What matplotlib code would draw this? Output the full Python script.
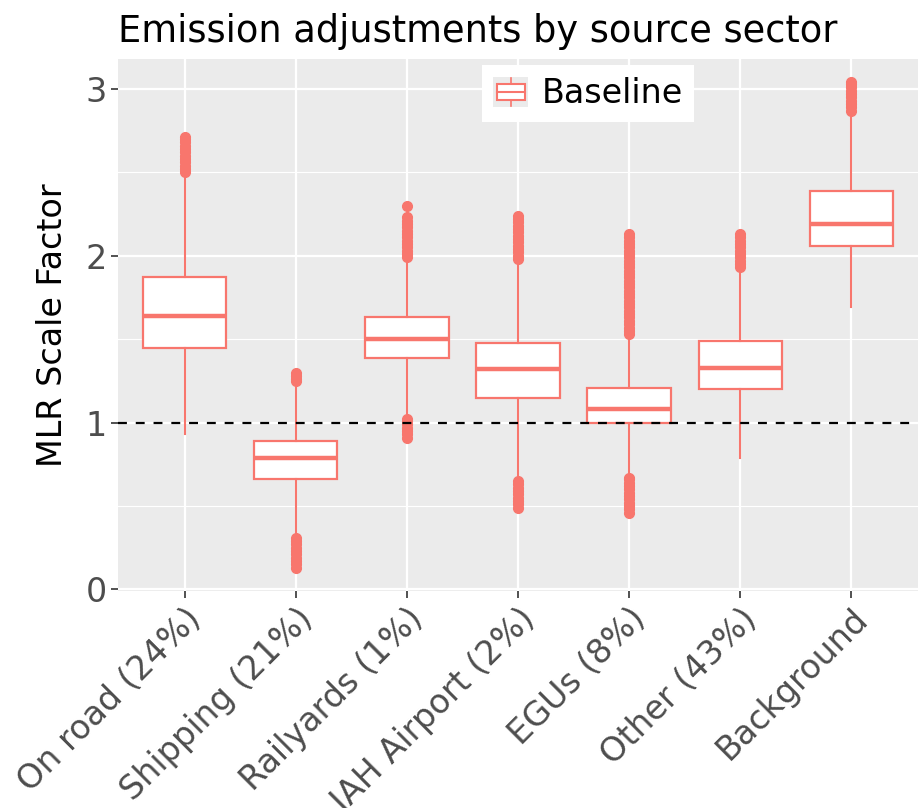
import matplotlib.pyplot as plt
from matplotlib.legend_handler import HandlerBase
from matplotlib.patches import Rectangle
from matplotlib.lines import Line2D

categories = ["On road (24%)", "Shipping (21%)", "Railyards (1%)", "IAH Airport (2%)",
              "EGUs (8%)", "Other (43%)", "Background"]

# box statistics
q1 = [1.45, 0.66, 1.39, 1.15, 0.995, 1.20, 2.06]
med = [1.64, 0.79, 1.50, 1.32, 1.08, 1.33, 2.19]
q3 = [1.87, 0.89, 1.63, 1.48, 1.21, 1.49, 2.39]
whislo = [0.93, 0.33, 1.03, 0.66, 0.68, 0.79, 1.69]
whishi = [2.49, 1.23, 1.98, 1.97, 1.52, 1.92, 2.86]

# outliers (dense runs written out point by point)
fliers = [
    [2.50, 2.52, 2.54, 2.56, 2.58, 2.60, 2.62, 2.64, 2.66, 2.68, 2.70, 2.71],
    [1.25, 1.26, 1.28, 1.30,
     0.13, 0.15, 0.17, 0.19, 0.21, 0.23, 0.25, 0.27, 0.29, 0.31],
    [1.99, 2.01, 2.03, 2.05, 2.07, 2.09, 2.11, 2.13, 2.15, 2.17, 2.19, 2.21, 2.23, 2.30,
     0.91, 0.93, 0.95, 0.97, 0.99, 1.01, 1.02],
    [1.98, 2.00, 2.02, 2.04, 2.06, 2.08, 2.10, 2.12, 2.14, 2.16, 2.18, 2.20, 2.22, 2.24,
     0.49, 0.51, 0.53, 0.55, 0.57, 0.59, 0.61, 0.63, 0.65],
    [1.53, 1.55, 1.57, 1.59, 1.61, 1.63, 1.65, 1.67, 1.69, 1.71, 1.73, 1.75, 1.77,
     1.79, 1.81, 1.83, 1.85, 1.87, 1.89, 1.91, 1.93, 1.95, 1.97, 1.99, 2.01, 2.03,
     2.05, 2.07, 2.09, 2.11, 2.13,
     0.46, 0.48, 0.50, 0.52, 0.54, 0.56, 0.58, 0.60, 0.62, 0.64, 0.66, 0.67],
    [1.93, 1.95, 1.97, 1.99, 2.01, 2.03, 2.05, 2.07, 2.09, 2.11, 2.13],
    [2.87, 2.89, 2.91, 2.93, 2.95, 2.97, 2.99, 3.01, 3.03, 3.04],
]

col = "#F8766D"
gray_txt = "#4D4D4D"

stats = []
for i in range(len(categories)):
    stats.append(dict(label=categories[i], q1=q1[i], med=med[i], q3=q3[i],
                      whislo=whislo[i], whishi=whishi[i], fliers=fliers[i]))

fig = plt.figure(figsize=(9.2, 8.08), dpi=100)
ax = fig.add_axes([118 / 920, 1 - 591 / 808, 800 / 920, 532 / 808])
ax.set_facecolor("#EBEBEB")

ax.set_yticks([0.5, 1.5, 2.5], minor=True)
ax.grid(which="major", color="white", lw=1.6, zorder=0)
ax.grid(which="minor", axis="y", color="white", lw=0.8, zorder=0)
ax.set_axisbelow(True)

pos = list(range(1, len(categories) + 1))
ax.bxp(stats, positions=pos, widths=0.75, patch_artist=True, showcaps=False,
       boxprops=dict(facecolor="white", edgecolor=col, lw=1.6),
       medianprops=dict(color=col, lw=3.2),
       whiskerprops=dict(color=col, lw=1.5),
       flierprops=dict(marker="o", markerfacecolor=col, markeredgecolor=col,
                       markersize=7, linestyle="none"),
       zorder=3)

ax.axhline(1, color="black", ls=(0, (4, 4)), lw=1.6, zorder=4)

ax.set_xlim(0.4, 7.6)
ax.set_ylim(-0.01, 3.18)
ax.set_yticks([0, 1, 2, 3])
ax.set_yticklabels(["0", "1", "2", "3"])
ax.set_xticks(pos)
ax.set_xticklabels(categories, rotation=45, ha="right", rotation_mode="anchor")
for s in ax.spines.values():
    s.set_visible(False)
ax.tick_params(axis="both", which="major", length=5, width=1.2, color="#333333",
               labelsize=24, labelcolor=gray_txt, pad=3)
ax.tick_params(axis="y", which="minor", length=0)

ax.set_ylabel("MLR Scale Factor", fontsize=24, color="black", labelpad=12)
ax.set_title("Emission adjustments by source sector", fontsize=26.5, loc="left",
             pad=12, color="black")


class BoxHandler(HandlerBase):
    def create_artists(self, legend, orig_handle, xdescent, ydescent,
                       width, height, fontsize, trans):
        x0, y0 = -xdescent, -ydescent
        bg = Rectangle((x0, y0), width, height, fc="#EBEBEB", ec="none",
                       transform=trans)
        box = Rectangle((x0 + width * 0.1, y0 + height * 0.25), width * 0.8,
                        height * 0.5, fc="white", ec=col, lw=1.5, transform=trans)
        mid = Line2D([x0 + width * 0.1, x0 + width * 0.9], [y0 + height * 0.5] * 2,
                     color=col, lw=1.5, transform=trans)
        wt = Line2D([x0 + width * 0.5] * 2, [y0 + height * 0.75, y0 + height * 0.95],
                    color=col, lw=1.2, transform=trans)
        wb = Line2D([x0 + width * 0.5] * 2, [y0 + height * 0.05, y0 + height * 0.25],
                    color=col, lw=1.2, transform=trans)
        return [bg, box, mid, wt, wb]


handle = Rectangle((0, 0), 1, 1)
leg = ax.legend([handle], ["Baseline"], handler_map={Rectangle: BoxHandler()},
                loc="upper center", bbox_to_anchor=(0.5875, 0.989), fontsize=24,
                handlelength=1.05, handleheight=1.05, handletextpad=0.4,
                frameon=True, fancybox=False, edgecolor="none", framealpha=1,
                borderpad=0.35, borderaxespad=0)
leg.set_zorder(6)

fig.savefig("out.png", dpi=100)
